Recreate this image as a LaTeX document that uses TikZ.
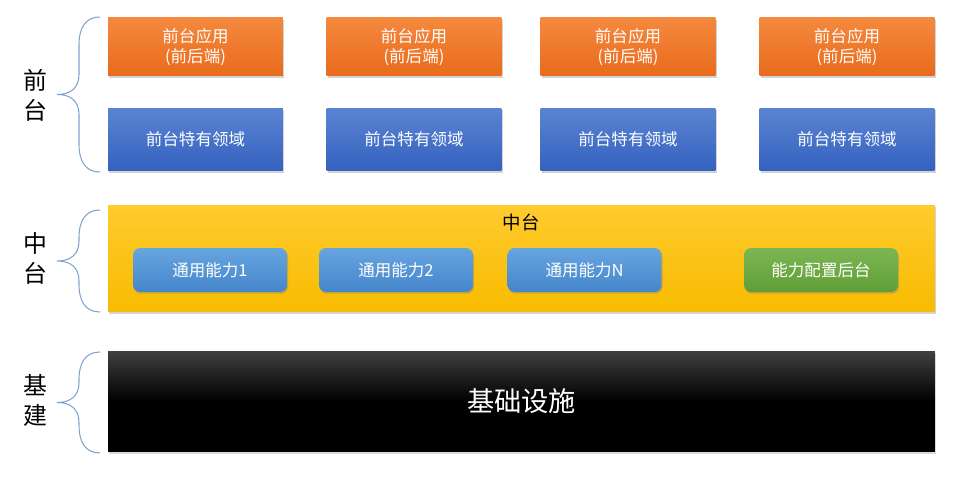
\documentclass[tikz,border=0pt]{standalone}
\usepackage{fontspec}
\setmainfont{Noto Sans CJK SC}
\usetikzlibrary{shadows}
\definecolor{appTop}{HTML}{F4893E}
\definecolor{appBot}{HTML}{E96A1C}
\definecolor{domTop}{HTML}{5A84D2}
\definecolor{domBot}{HTML}{3461BF}
\definecolor{midTop}{HTML}{FFCB2E}
\definecolor{midBot}{HTML}{F7BB00}
\definecolor{capTop}{HTML}{67A5DF}
\definecolor{capBot}{HTML}{4586CC}
\definecolor{cfgTop}{HTML}{7CB652}
\definecolor{cfgBot}{HTML}{5F9E37}
\definecolor{braceCol}{HTML}{7FA3D0}
\def\sidebrace(#1:#2){\draw[braceCol, line width=0.6pt] (100,#1) .. controls (86,#1) and (79,{#1+10}) .. (79,{#1+28}) -- (79,{(#1+#2)/2-20}) .. controls (79,{(#1+#2)/2-6}) and (70,{(#1+#2)/2}) .. (57,{(#1+#2)/2}) .. controls (70,{(#1+#2)/2}) and (79,{(#1+#2)/2+6}) .. (79,{(#1+#2)/2+20}) -- (79,{#2-28}) .. controls (79,{#2-10}) and (86,#2) .. (100,#2);}

\begin{document}
\begin{tikzpicture}[x=0.02cm, y=-0.02cm,
  boxtext/.style={text=white, font=\fontsize{9.4pt}{11.3pt}\selectfont, align=center, inner sep=0pt},
  appbox/.style={boxtext, shading=axis, top color=appTop, bottom color=appBot, minimum width=3.5cm, minimum height=1.16cm, drop shadow={shadow xshift=0.6pt, shadow yshift=-1pt, opacity=0.35}},
  dombox/.style={boxtext, shading=axis, top color=domTop, bottom color=domBot, minimum width=3.5cm, minimum height=1.26cm, drop shadow={shadow xshift=0.6pt, shadow yshift=-1pt, opacity=0.35}},
  capbox/.style={boxtext, rounded corners=4pt, shading=axis, top color=capTop, bottom color=capBot, minimum width=3.08cm, minimum height=0.88cm, drop shadow={shadow xshift=0.6pt, shadow yshift=-1pt, opacity=0.4}},
  sidelabel/.style={font=\fontsize{13.6pt}{17pt}\selectfont, align=center, inner sep=0pt}]
			%%%%% START %%%%%
			\useasboundingbox (0,0) rectangle (970,482);
			
			% front layer
			\node[appbox] (app1) at (195.5,47) {前台应用\\(前后端)};
			\node[appbox] (app2) at (414,47) {前台应用\\(前后端)};
			\node[appbox] (app3) at (628,47) {前台应用\\(前后端)};
			\node[appbox] (app4) at (847,47) {前台应用\\(前后端)};
			
			\node[dombox] (dom1) at (195.5,139.5) {前台特有领域};
			\node[dombox] (dom2) at (414,139.5) {前台特有领域};
			\node[dombox] (dom3) at (628,139.5) {前台特有领域};
			\node[dombox] (dom4) at (847,139.5) {前台特有领域};
			
			% middle layer
			\node[shading=axis, top color=midTop, bottom color=midBot, minimum width=16.54cm, minimum height=2.14cm, inner sep=0pt, drop shadow={shadow xshift=0.6pt, shadow yshift=-1pt, opacity=0.35}] (mid) at (521.5,258.5) {};
			\node[font=\fontsize{10.5pt}{12pt}\selectfont, inner sep=0pt] (midtitle) at (521,222) {中台};
			
			\node[capbox] (cap1) at (210,270) {通用能力1};
			\node[capbox] (cap2) at (396,270) {通用能力2};
			\node[capbox] (capn) at (584.5,270) {通用能力N};
			\node[capbox, top color=cfgTop, bottom color=cfgBot] (cfg) at (821,270) {能力配置后台};
			
			% base layer
			\node[shading=axis, top color=black!75, bottom color=black, middle color=black, text=white, font=\fontsize{15.5pt}{18pt}\selectfont, minimum width=16.54cm, minimum height=2.02cm, inner sep=0pt, drop shadow={shadow xshift=0.6pt, shadow yshift=-1pt, opacity=0.3}] (base) at (521.5,401.5) {基础设施};
			
			% side labels
			\node[sidelabel] (lfront) at (35,95) {前\\台};
			\node[sidelabel] (lmid) at (35,258) {中\\台};
			\node[sidelabel] (lbase) at (35,400) {基\\建};
			
			\sidebrace(17:172)
			\sidebrace(210:312)
			\sidebrace(352:453)
			
			%%%%% END %%%%%
		\end{tikzpicture}
\end{document}
